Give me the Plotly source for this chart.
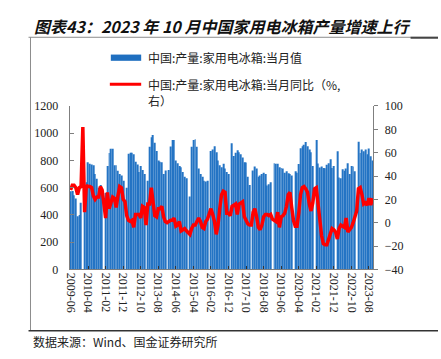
import pandas as pd
import plotly.graph_objects as go

W, H = 441, 359

# ---------------- data ----------------
months = [p.strftime("%Y-%m") for p in pd.period_range("2009-06", "2023-10", freq="M")]

# 家用电冰箱当月产量（万台），1月无数据
prod_2009 = [574, 575, 545, 520, 390, 400, 490]
prod_2010 = [None, 500, 640, 786, 775, 770, 765, 700, 665, 600, 620, 560]
prod_2011 = [None, 560, 760, 855, 885, 885, 765, 765, 725, 700, 690, 650]
prod_2012 = [None, 600, 850, 856, 856, 845, 790, 770, 715, 760, 730, 700]
prod_2013 = [None, 650, 900, 970, 986, 930, 870, 800, 790, 786, 700, 727]
prod_2014 = [None, 730, 903, 950, 950, 800, 780, 760, 750, 715, 680, 670]
prod_2015 = [None, 535, 900, 950, 955, 900, 740, 700, 680, 650, 645, 650]
prod_2016 = [None, 870, 880, 905, 860, 800, 765, 750, 775, 740, 715, 700]
prod_2017 = [None, 927, 833, 856, 875, 861, 845, 821, 786, 785, 680, 620]
prod_2018 = [None, 727, 755, 740, 680, 690, 700, 710, 700, 615, 625, 640]
prod_2019 = [None, 780, 775, 775, 750, 745, 740, 710, 720, 705, 700, 690]
prod_2020 = [None, 720, 710, 774, 890, 905, 915, 935, 905, 880, 860, 760]
prod_2021 = [None, 950, 778, 748, 755, 745, 742, 768, 780, 809, 745, 760]
prod_2022 = [None, 868, 675, 670, 735, 725, 740, 780, 700, 760, 755, 720]
prod_2023 = [None, 937, 855, 880, 868, 880, 845, 887, 830, 800]

# 当月同比（%）
yoy_2009 = [28, 32, 32, 30, 24, 30, 31]
yoy_2010 = [82, 9, 32, 31, 31, 30, 23, 20, 22, 22, 31, 28]
yoy_2011 = [12, 4, 26, 12, 17, 22, 21, 13, 23, 31, 30, 20]
yoy_2012 = [18, 6, 2, 1, 2, -4, 7, 7, 7, 4, 14, 13]
yoy_2013 = [-2, 16, 16, 30, 14, 6, 5, 12, 12, 14, 5, 1]
yoy_2014 = [0, 1, 2, 2, 4, -3, -2, 1, -7, -6, -5, -7]
yoy_2015 = [-9, -10, -5, -2, -2, 2, 4, 1, -4, -5, 1, 3]
yoy_2016 = [8, 12, 7, 1, -10, -2, 12, 24, 27, 26, 8, 8]
yoy_2017 = [6, 14, 15, 16, 7, 16, 17, 18, 5, 2, -1, -2]
yoy_2018 = [-2, 9, 12, 5, -4, -6, -2, 5, 7, 7, 6, 7]
yoy_2019 = [3, 2, 1, 9, -4, 5, 6, 8, 14, 24, 26, 13]
yoy_2020 = [2, -3, -3, 8, 24, 30, 31, 29, 26, 16, 10, 17]
yoy_2021 = [29, 30, 17, 0, -11, -18, -19, -19, -14, -8, -5, -6]
yoy_2022 = [-8, -14, -5, -2, -3, -4, 4, -8, -6, -4, 0, 4]
yoy_2023 = [10, 29, 30, 24, 16, 17, 15, 21, 15, 21]

tick_labels = ["2009-06", "2010-04", "2011-02", "2011-12", "2012-10", "2013-08",
               "2014-06", "2015-04", "2016-02", "2016-12", "2017-10", "2018-08",
               "2019-06", "2020-04", "2021-02", "2021-12", "2022-10", "2023-08"]

bar_name = "中国:产量:家用电冰箱:当月值"
line_name = "中国:产量:家用电冰箱:当月同比（%,<br>右）"
title_text = "图表43：2023 年 10 月中国家用电冰箱产量增速上行"
source_text = "数据来源：Wind、国金证券研究所"

production = (prod_2009 + prod_2010 + prod_2011 + prod_2012 + prod_2013 + prod_2014 +
              prod_2015 + prod_2016 + prod_2017 + prod_2018 + prod_2019 + prod_2020 +
              prod_2021 + prod_2022 + prod_2023)
yoy = (yoy_2009 + yoy_2010 + yoy_2011 + yoy_2012 + yoy_2013 + yoy_2014 + yoy_2015 +
       yoy_2016 + yoy_2017 + yoy_2018 + yoy_2019 + yoy_2020 + yoy_2021 + yoy_2022 + yoy_2023)

# ---------------- helpers ----------------
def px(x):
    return x / W

def py(y):
    return 1 - y / H

BLUE = "#2474C4"
RED = "#FF0000"
SERIF = "Liberation Serif"
CJK = "Noto Sans CJK SC"

fig = go.Figure()
fig.add_trace(go.Bar(x=months, y=production, name=bar_name, marker_color=BLUE,
                     marker_line_width=0, yaxis="y", showlegend=False))
fig.add_trace(go.Scatter(x=months, y=yoy, name=line_name.replace("<br>", ""), mode="lines",
                         line=dict(color=RED, width=3.5), yaxis="y2",
                         connectgaps=True, showlegend=False))

fig.update_layout(
    width=W, height=H,
    margin=dict(l=0, r=0, t=0, b=0),
    paper_bgcolor="white", plot_bgcolor="white",
    bargap=0.45,
    xaxis=dict(
        type="category", domain=[px(65), px(375)],
        tickmode="array", tickvals=tick_labels, ticktext=tick_labels,
        tickangle=90, ticks="inside", ticklen=3, tickcolor="#333",
        showline=True, linecolor="#7f7f7f", linewidth=1,
        tickfont=dict(family=SERIF, size=12, color="#222"),
        showgrid=False, zeroline=False,
    ),
    yaxis=dict(
        domain=[py(273), py(103)], range=[0, 1200], dtick=200,
        ticks="inside", ticklen=4, tickcolor="#7f7f7f",
        showline=True, linecolor="#7f7f7f", linewidth=1,
        tickfont=dict(family=SERIF, size=12, color="#222"),
        ticklabelstandoff=8,
        showgrid=False, zeroline=False,
    ),
    yaxis2=dict(
        overlaying="y", side="right", range=[-40, 100], dtick=20,
        ticks="outside", ticklen=4, tickcolor="#7f7f7f",
        showline=True, linecolor="#7f7f7f", linewidth=1,
        tickfont=dict(family=SERIF, size=12, color="#222"),
        ticklabelstandoff=4,
        showgrid=False, zeroline=False,
    ),
)

shapes = [
    # frame
    dict(type="line", xref="paper", yref="paper", x0=px(23), x1=1, y0=py(31.5), y1=py(31.5),
         line=dict(color="#8c8c8c", width=1)),
    dict(type="line", xref="paper", yref="paper", x0=px(413), x1=1, y0=py(32), y1=py(32),
         line=dict(color="#444", width=2)),
    dict(type="line", xref="paper", yref="paper", x0=px(25), x1=px(25), y0=py(31.5), y1=py(337),
         line=dict(color="#8c8c8c", width=1)),
    dict(type="line", xref="paper", yref="paper", x0=px(23), x1=1, y0=py(337), y1=py(337),
         line=dict(color="#333", width=1.5)),
    # legend swatches
    dict(type="rect", xref="paper", yref="paper", x0=px(107), x1=px(138), y0=py(56), y1=py(49.5),
         fillcolor="#1F6FC0", line=dict(width=0)),
    dict(type="line", xref="paper", yref="paper", x0=px(106), x1=px(138), y0=py(80.5), y1=py(80.5),
         line=dict(color=RED, width=3)),
]
fig.update_layout(shapes=shapes)

annotations = [
    dict(text=title_text, x=px(27), y=py(5), xref="paper", yref="paper",
         xanchor="left", yanchor="top", showarrow=False,
         font=dict(family=CJK, size=16, color="#111", weight="bold", style="italic")),
    dict(text=bar_name, x=px(143), y=py(52.5), xref="paper", yref="paper",
         xanchor="left", yanchor="middle", showarrow=False,
         font=dict(family=CJK, size=12, color="#222")),
    dict(text=line_name, x=px(143), y=py(88.5), xref="paper", yref="paper",
         xanchor="left", yanchor="middle", showarrow=False, align="left",
         font=dict(family=CJK, size=12, color="#222")),
    dict(text=source_text, x=px(26), y=py(348.5), xref="paper", yref="paper",
         xanchor="left", yanchor="middle", showarrow=False,
         font=dict(family=CJK, size=12, color="#222")),
]
fig.update_layout(annotations=annotations)

fig.write_html("out.html", config={"displayModeBar": False},
               post_script="document.body.style.margin='0';")
